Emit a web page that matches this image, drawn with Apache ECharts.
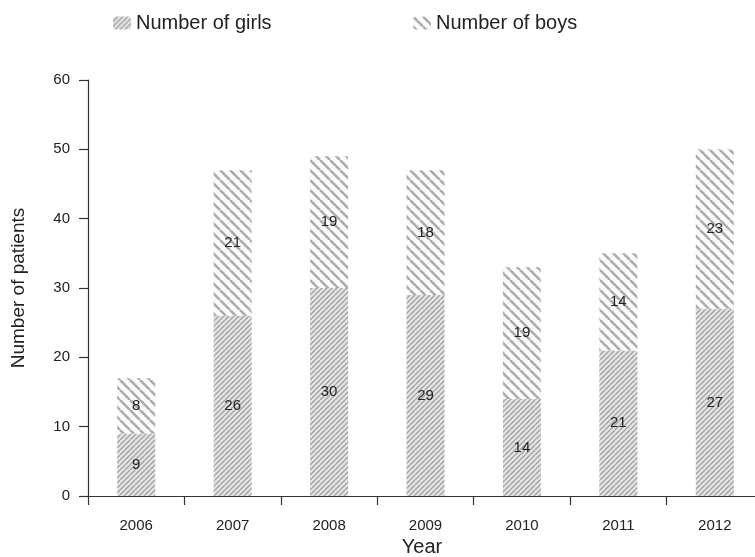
<!DOCTYPE html>
<html><head><meta charset="utf-8">
<script src="https://cdn.jsdelivr.net/npm/echarts@6/dist/echarts.min.js"></script>
<style>html,body{margin:0;padding:0;background:#fff}#c{width:755px;height:557px}</style>
</head><body><div id="c"></div>
<script>
const years = ['2006','2007','2008','2009','2010','2011','2012'];
const girls = [9, 26, 30, 29, 14, 21, 27];
const boys = [8, 21, 19, 18, 19, 14, 23];
const yTicks = [0, 10, 20, 30, 40, 50, 60];

function makePattern(size, bg, fg, lw, dir) {
  const c = document.createElement('canvas');
  c.width = size; c.height = size;
  const g = c.getContext('2d');
  g.fillStyle = bg; g.fillRect(0, 0, size, size);
  g.strokeStyle = fg; g.lineWidth = lw;
  g.beginPath();
  for (let k = -1; k <= 1; k++) {
    if (dir === '/') {
      g.moveTo(k * size, size); g.lineTo(k * size + size, 0);
    } else {
      g.moveTo(k * size, 0); g.lineTo(k * size + size, size);
    }
  }
  g.stroke();
  return c;
}
const girlPat = makePattern(5, '#e4e4e4', '#a0a0a0', 1.3, '/');
const boyPat = makePattern(10, '#fbfbfb', '#acacac', 2.6, '\\');

const chart = echarts.init(document.getElementById('c'));
const font = 'Liberation Sans, Arial, sans-serif';
chart.setOption({
  backgroundColor: '#fff',
  textStyle: { fontFamily: font },
  legend: [
    { data: ['Number of girls'], left: 108, top: 8, itemWidth: 18, itemHeight: 13, itemGap: 8,
      textStyle: { fontSize: 20, color: '#222', fontFamily: font } },
    { data: ['Number of boys'], left: 408, top: 8, itemWidth: 18, itemHeight: 13, itemGap: 8,
      textStyle: { fontSize: 20, color: '#222', fontFamily: font } }
  ],
  grid: { left: 88, top: 80, width: 675, height: 416, outerBoundsMode: 'none', containLabel: false },
  xAxis: {
    type: 'category', data: years,
    name: 'Year', nameLocation: 'middle', nameGap: 41,
    nameTextStyle: { fontSize: 20, color: '#222', fontFamily: font, padding: [0, 7, 0, 0] },
    axisLine: { lineStyle: { color: '#333', width: 1.2 } },
    axisTick: { show: true, length: 9, alignWithLabel: false, lineStyle: { color: '#333', width: 1.2 } },
    axisLabel: { fontSize: 15, color: '#222', margin: 22, fontFamily: font }
  },
  yAxis: {
    type: 'value', min: yTicks[0], max: yTicks[yTicks.length - 1], interval: 10,
    name: 'Number of patients', nameLocation: 'middle', nameGap: 60,
    nameTextStyle: { fontSize: 19, color: '#222', fontFamily: font },
    axisLine: { show: true, lineStyle: { color: '#333', width: 1.2 } },
    axisTick: { show: true, length: 9, lineStyle: { color: '#333', width: 1.2 } },
    axisLabel: { fontSize: 15, color: '#222', margin: 18, fontFamily: font },
    splitLine: { show: false }
  },
  series: [
    { name: 'Number of girls', type: 'bar', stack: 't', data: girls, barWidth: 38,
      itemStyle: { color: { image: girlPat, repeat: 'repeat' } },
      label: { show: true, position: 'inside', color: '#222', fontSize: 15, fontFamily: font } },
    { name: 'Number of boys', type: 'bar', stack: 't', data: boys, barWidth: 38,
      itemStyle: { color: { image: boyPat, repeat: 'repeat' } },
      label: { show: true, position: 'inside', color: '#222', fontSize: 15, fontFamily: font } }
  ]
});
</script></body></html>
